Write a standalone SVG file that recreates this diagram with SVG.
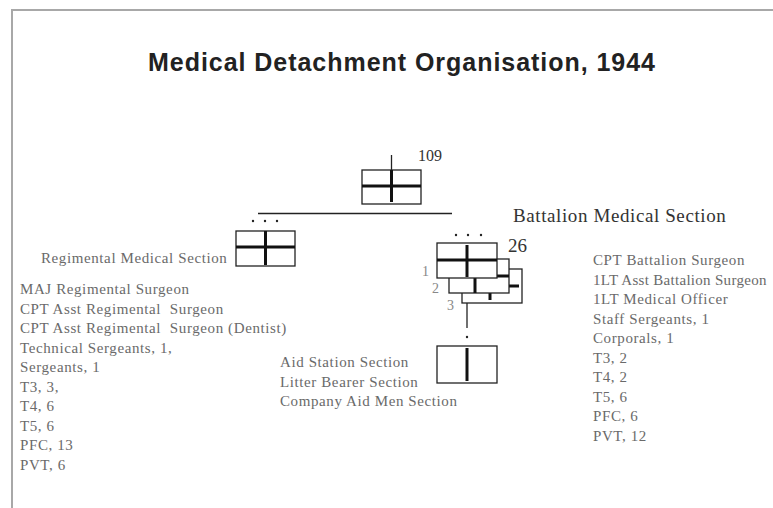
<svg xmlns="http://www.w3.org/2000/svg" width="773" height="508" viewBox="0 0 773 508">
  <style>
    .frame { fill: none; stroke: #a8a8a8; stroke-width: 2; }
    .box { fill: #fff; stroke: #222; stroke-width: 1.3; }
    .bar { stroke: #111; stroke-width: 3; fill: none; }
    .thin { stroke: #222; stroke-width: 1.3; fill: none; }
    .title { font-family: "Liberation Sans", Arial, sans-serif; font-weight: bold; font-size: 25px; fill: #222; }
    .serif { font-family: "Liberation Serif", "Times New Roman", serif; }
    .list { font-size: 15px; letter-spacing: 0.6px; fill: #6a6a6a; white-space: pre; }
    .num { font-size: 16px; fill: #333; }
    .head { font-size: 19px; letter-spacing: 0.6px; fill: #333; }
    .echelon { font-size: 14px; fill: #888; }
    .dot { fill: #222; }
  </style>

  <!-- page frame -->
  <path class="frame" d="M12 508 V10 H773"/>

  <text class="title" x="148" y="71" textLength="507" lengthAdjust="spacing">Medical Detachment Organisation, 1944</text>

  <!-- connectors -->
  <g id="connectors">
    <line class="thin" x1="258" y1="213.5" x2="452" y2="213.5"/>
    <line class="thin" x1="467" y1="303" x2="467" y2="328"/>
  </g>

  <!-- regiment medical detachment -->
  <g id="regiment">
    <line class="thin" x1="391.5" y1="155" x2="391.5" y2="170"/>
    <rect class="box" x="362" y="170" width="59" height="34"/>
    <line class="bar" x1="362" y1="186" x2="421" y2="186"/>
    <line class="bar" x1="391.5" y1="170" x2="391.5" y2="202"/>
    <text class="serif num" x="418" y="161">109</text>
  </g>

  <!-- regimental medical section -->
  <g id="regimental-section">
    <circle class="dot" cx="253" cy="221" r="1.2"/>
    <circle class="dot" cx="265" cy="221" r="1.2"/>
    <circle class="dot" cx="277" cy="221" r="1.2"/>
    <rect class="box" x="236" y="231" width="59" height="35"/>
    <line class="bar" x1="236" y1="247" x2="295" y2="247"/>
    <line class="bar" x1="265.5" y1="231" x2="265.5" y2="265"/>
    <text class="serif list" x="41" y="263">Regimental Medical Section</text>
    <g class="serif list">
      <text x="20" y="294">MAJ Regimental Surgeon</text>
      <text x="20" y="313.5" xml:space="preserve">CPT Asst Regimental  Surgeon</text>
      <text x="20" y="333" xml:space="preserve">CPT Asst Regimental  Surgeon (Dentist)</text>
      <text x="20" y="352.5">Technical Sergeants, 1,</text>
      <text x="20" y="372">Sergeants, 1</text>
      <text x="20" y="391.5">T3, 3,</text>
      <text x="20" y="411">T4, 6</text>
      <text x="20" y="430.5">T5, 6</text>
      <text x="20" y="450">PFC, 13</text>
      <text x="20" y="469.5">PVT, 6</text>
    </g>
  </g>

  <!-- battalion medical sections 1-3 -->
  <g id="battalion-section">
    <!-- 3rd battalion -->
    <rect class="box" x="462" y="269" width="60" height="34"/>
    <line class="bar" x1="462" y1="286" x2="519" y2="286"/>
    <line class="bar" x1="490" y1="286" x2="490" y2="300"/>
    <!-- 2nd battalion -->
    <rect class="box" x="449" y="259" width="60" height="34"/>
    <line class="bar" x1="449" y1="276" x2="509" y2="276"/>
    <line class="bar" x1="475" y1="259" x2="475" y2="293"/>
    <!-- 1st battalion -->
    <rect class="box" x="437" y="243" width="60" height="35"/>
    <line class="bar" x1="437" y1="260" x2="497" y2="260"/>
    <line class="bar" x1="467" y1="245" x2="467" y2="277"/>
    <circle class="dot" cx="456" cy="235" r="1.2"/>
    <circle class="dot" cx="468" cy="235" r="1.2"/>
    <circle class="dot" cx="481" cy="235" r="1.2"/>
    <text class="serif echelon" x="422" y="276">1</text>
    <text class="serif echelon" x="432" y="293">2</text>
    <text class="serif echelon" x="447" y="310">3</text>
    <text class="serif" x="508" y="252" font-size="19" fill="#333">26</text>
    <text class="serif head" x="513" y="222">Battalion Medical Section</text>
    <g class="serif list">
      <text x="593" y="265">CPT Battalion Surgeon</text>
      <text x="593" y="284.5" letter-spacing="0.3">1LT Asst Battalion Surgeon</text>
      <text x="593" y="304">1LT Medical Officer</text>
      <text x="593" y="323.5">Staff Sergeants, 1</text>
      <text x="593" y="343">Corporals, 1</text>
      <text x="593" y="362.5">T3, 2</text>
      <text x="593" y="382">T4, 2</text>
      <text x="593" y="401.5">T5, 6</text>
      <text x="593" y="421">PFC, 6</text>
      <text x="593" y="440.5">PVT, 12</text>
    </g>
  </g>

  <!-- company-level sections -->
  <g id="aid-sections">
    <circle class="dot" cx="467" cy="337" r="1.2"/>
    <rect class="box" x="437" y="346" width="60" height="37"/>
    <line class="bar" x1="467" y1="348" x2="467" y2="381"/>
    <g class="serif list">
      <text x="280" y="367">Aid Station Section</text>
      <text x="280" y="386.5">Litter Bearer Section</text>
      <text x="280" y="406">Company Aid Men Section</text>
    </g>
  </g>
</svg>
